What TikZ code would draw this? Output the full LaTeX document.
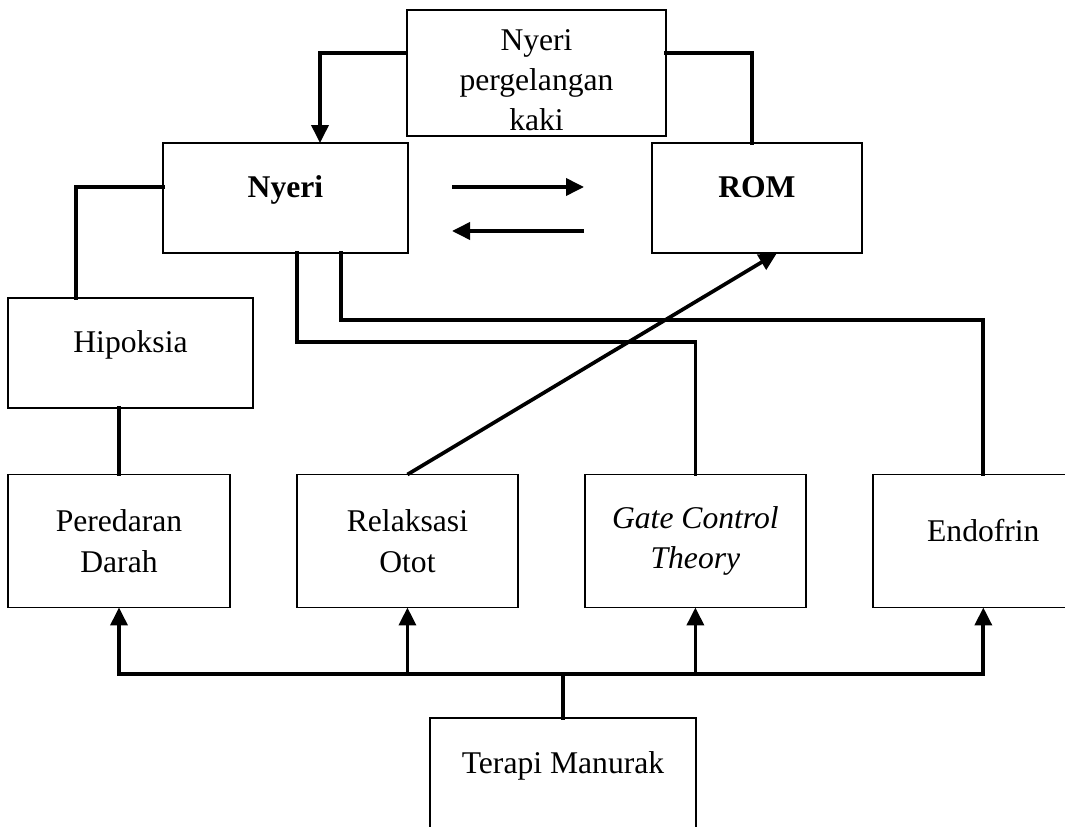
\documentclass[tikz,border=0pt]{standalone}
\usepackage{fontspec}
\setmainfont{Liberation Serif}
\usetikzlibrary{arrows.meta,positioning}

\tikzset{
  flowbox/.style={
    rectangle, draw=black, line width=1.1pt,
    inner sep=0pt, outer sep=0pt,
    minimum width=#1, minimum height=2.2cm,
    font=\fontsize{18}{23}\selectfont, align=center
  },
  flowbox/.default=4.42cm,
  oneline/.style={text height=0.3cm, text depth=0.3cm},
  rowbox/.style={flowbox=#1, minimum height=2.66cm},
  rowbox/.default=4.42cm,
  linkline/.style={line width=2.1pt, line cap=rect},
  linkarrow/.style={line width=2.1pt, -{Triangle[length=0.36cm,width=0.34cm]}},
}

\begin{document}
\begin{tikzpicture}[x=0.02cm, y=-0.02cm, node distance=1.34cm]
    \useasboundingbox (0,0) rectangle (1065,827);
    \clip (0,0) rectangle (1065,827);

    % upper part
    \node[flowbox=5.18cm, minimum height=2.52cm, text height=2.42cm, text depth=0.1cm]
        (kaki) at (536.5,73) {Nyeri\\pergelangan\\kaki};
    \node[flowbox=4.9cm, oneline] (nyeri) at (285.5,198) {\textbf{Nyeri}};
    \node[flowbox=4.2cm, oneline, right=4.88cm of nyeri] (rom) {\textbf{ROM}};
    \node[flowbox=4.9cm, oneline] (hipoksia) at (130.5,353) {Hipoksia};

    % lower row
    \node[rowbox=4.44cm] (peredaran) at (119,541) {Peredaran\\Darah};
    \node[rowbox, right=of peredaran] (relaksasi) {Relaksasi\\Otot};
    \node[rowbox, right=of relaksasi] (gate) {\textit{Gate Control}\\\textit{Theory}};
    \node[rowbox, oneline, right=of gate] (endofrin) {Endofrin};
    \node[flowbox=5.32cm, minimum height=2.84cm, text height=1.1cm, text depth=1.74cm]
        (terapi) at (563,789) {Terapi Manurak};

    % connectors
    \draw[linkarrow] (kaki.west |- 0,53) -| (320,0 |- nyeri.north);
    \draw[linkline] (kaki.east |- 0,53) -| (752,0 |- rom.north);
    \draw[linkline] (nyeri.west |- 0,187) -| (76,0 |- hipoksia.north);
    \draw[linkline] (hipoksia.south -| peredaran.north) -- (peredaran.north);
    \draw[linkline] (nyeri.south -| 297,0) |- (gate.north |- 0,342) -- (gate.north);
    \draw[linkline] (nyeri.south -| 341,0) |- (endofrin.north |- 0,320) -- (endofrin.north);
    \draw[linkarrow] (relaksasi.north) -- (777,0 |- rom.south);

    \coordinate (toromA) at (452,187);
    \coordinate (toromB) at (584,187);
    \coordinate (tonyeriA) at (584,231);
    \coordinate (tonyeriB) at (452,231);
    \draw[linkarrow] (toromA) -- (toromB);
    \draw[linkarrow] (tonyeriA) -- (tonyeriB);

    % terapi to every box
    \coordinate (bus) at (terapi.north |- 0,674);
    \draw[linkline] (terapi.north) -- (bus);
    \draw[linkline] (peredaran.south |- bus) -- (endofrin.south |- bus);
    \foreach \b in {peredaran,relaksasi,gate,endofrin}
        \draw[linkarrow] (\b.south |- bus) -- (\b.south);
\end{tikzpicture}
\end{document}
